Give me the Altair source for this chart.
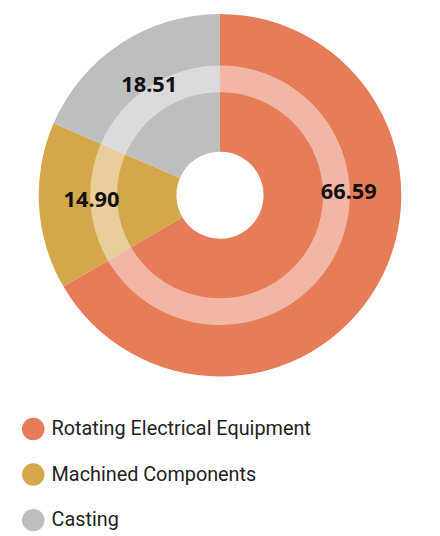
import altair as alt
import pandas as pd

categories = ["Rotating Electrical Equipment", "Machined Components", "Casting"]
values = [66.59, 14.90, 18.51]
colors = ["#E77C59", "#D4A74A", "#BDBEC0"]

df = pd.DataFrame({"category": categories, "value": values, "idx": list(range(len(categories)))})

base = alt.Chart(df)

pie = base.mark_arc(outerRadius=183, innerRadius=44).encode(
    theta=alt.Theta("value:Q", stack=True),
    color=alt.Color(
        "category:N",
        scale=alt.Scale(domain=categories, range=colors),
        legend=alt.Legend(
            title=None,
            orient="none",
            legendX=14,
            legendY=411,
            symbolType="circle",
            symbolSize=515,
            symbolStrokeWidth=0,
            labelFont="Roboto",
            labelFontSize=20,
            labelColor="#222222",
            labelOffset=7,
            labelLimit=400,
            rowPadding=23,
            padding=0,
        ),
    ),
    order=alt.Order("idx:Q"),
)

ring = base.mark_arc(innerRadius=104, outerRadius=131, color="white", opacity=0.45).encode(
    theta=alt.Theta("value:Q", stack=True),
    order=alt.Order("idx:Q"),
)

labels = (
    base.transform_joinaggregate(total="sum(value)")
    .transform_window(cum="sum(value)", sort=[alt.SortField("idx")], frame=[None, 0])
    .transform_calculate(mid="2*PI*(datum.cum - datum.value/2)/datum.total")
    .transform_calculate(ang="datum.mid > PI/2 && datum.mid < PI ? PI/2 : datum.mid")
    .mark_text(radius=130, dy=-3, fontSize=22, fontWeight="bold", font="Noto Sans", color="#111111")
    .encode(
        theta=alt.Theta("ang:Q", scale=None),
        text=alt.Text("value:Q", format=".2f"),
    )
)

chart = (
    alt.layer(pie, ring, labels)
    .resolve_scale(theta="independent")
    .properties(width=428, height=373, padding=0)
    .configure_view(strokeWidth=0)
)

chart.save("out.html", embed_options={"renderer": "svg", "actions": False})
